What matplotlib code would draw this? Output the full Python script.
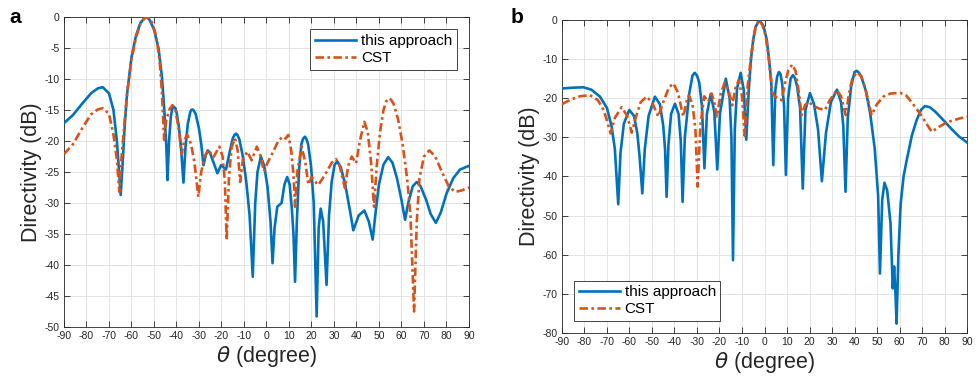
import matplotlib
matplotlib.use("Agg")
import matplotlib.pyplot as plt

# ---------------- Panel a data ----------------
theta_a_this = [-90, -86, -82, -78, -75, -72.8, -70, -68, -66.5, -65.5, -64.8, -64, -63, -62, -60, -58, -56, -54,
                -53.3, -52, -50, -48, -46.5, -45.5, -44.5, -44.0, -43.3, -42.5, -41.8, -41.1, -40.5, -40, -39, -38,
                -36.9, -36, -35, -34, -33.5, -32.9, -32.3, -31.5, -30, -29, -28.0, -27, -26.1, -25, -23.5, -21.8,
                -20.2, -18.0, -16.5, -15, -14.2, -13.5, -12.8, -12, -10.5, -9, -7.5, -6.1, -5, -4, -2.5, -1, 0.5,
                1.8, 2.7, 3.6, 4.8, 6.7, 8, 9.2, 10.3, 11.3, 12.0, 12.7, 13.5, 14.5, 15.5, 16.3, 17.1, 17.8, 18.5,
                19.8, 21.0, 22.3, 23.2, 24.1, 25.2, 26.7, 27.8, 29, 30.3, 31.5, 33, 35, 37, 38.6, 41, 43.5, 45.5,
                47.2, 48.5, 50, 52, 54.1, 56, 58, 60, 61.6, 63, 65, 66.8, 68.5, 71, 73, 75.3, 77.5, 80, 83, 86, 90]
dir_a_this = [-17.1, -15.8, -14.0, -12.3, -11.5, -11.3, -12.3, -15.0, -20.0, -25.0, -28.7, -24.0, -17.5, -12.5, -6.5,
              -3.0, -0.9, -0.1, 0.0, -0.4, -2.0, -5.0, -9.5, -14.5, -21.0, -26.3, -20.0, -16.0, -14.7, -14.5, -14.7,
              -15.3, -17.5, -21.0, -26.7, -21.0, -17.3, -15.5, -15.0, -14.9, -15.1, -15.6, -18.0, -20.5, -23.9,
              -22.3, -21.5, -22.0, -23.5, -25.2, -23.9, -24.6, -22.0, -19.6, -19.0, -18.8, -19.1, -19.8, -22.5,
              -26.5, -32.0, -41.9, -30.0, -25.0, -22.5, -24.0, -27.5, -33.0, -39.7, -34.0, -30.6, -30.0, -27.0,
              -25.8, -27.0, -31.0, -35.0, -42.7, -33.0, -24.5, -20.5, -19.6, -19.3, -19.7, -20.5, -24.0, -30.0,
              -48.3, -34.0, -30.9, -33.0, -43.2, -32.0, -26.5, -23.8, -23.3, -24.2, -27.0, -31.0, -34.4, -32.0,
              -31.2, -33.0, -35.9, -31.5, -27.0, -23.8, -22.6, -23.5, -26.0, -29.5, -32.7, -30.0, -27.3, -26.6,
              -27.3, -29.5, -31.8, -33.2, -31.5, -28.5, -26.0, -24.6, -24.0]

theta_a_cst = [-90, -86, -82, -78, -75, -72.8, -70, -68, -66.5, -65.4, -64.5, -63, -62, -60, -58, -56, -54, -52.5,
               -51, -49, -47.5, -46.5, -45.5, -44.5, -43, -41.8, -40.5, -39, -37.7, -36.5, -35.2, -33.5, -32,
               -30.3, -29, -27.5, -25.8, -23.6, -20.9, -19.5, -18.5, -17.7, -16.7, -15.5, -14.0, -12.8, -11.7,
               -10.5, -8.5, -6.6, -4.3, -2.5, -1.2, 0.5, 3, 5.5, 7.5, 8.5, 9.7, 11, 12.0, 12.7, 13.7, 15.6, 17.3,
               18.6, 20.1, 21.5, 23.0, 25, 26.7, 29, 30.9, 32.5, 34.9, 36.3, 37.9, 39.8, 41.5, 43.5, 45, 46.5,
               47.8, 49, 50.5, 52, 53.2, 54.2, 55.3, 56.5, 58.5, 60.5, 62.5, 64.0, 65.6, 66.8, 68, 70, 72.4, 75,
               78, 81, 83.8, 86.5, 90]
dir_a_cst = [-22.1, -20.5, -18.0, -15.7, -14.9, -14.7, -15.6, -19.0, -23.0, -28.2, -23.0, -16.5, -12.5, -6.8, -3.3,
             -1.0, -0.1, 0.0, -0.8, -3.0, -7.0, -12.0, -19.8, -16.5, -14.8, -14.2, -15.0, -18.0, -22.1, -19.8,
             -19.0, -20.5, -23.5, -29.0, -25.0, -22.5, -21.4, -22.6, -20.9, -22.5, -26.5, -36.0, -26.0, -21.0,
             -19.6, -21.5, -26.6, -23.0, -21.7, -23.1, -20.9, -22.5, -24.9, -23.5, -21.7, -19.8, -19.3, -19.6,
             -19.0, -21.5, -25.5, -30.6, -25.0, -20.9, -23.5, -27.0, -25.8, -26.5, -27.1, -26.0, -25.0, -23.5,
             -22.9, -24.0, -27.6, -24.0, -22.5, -23.6, -20.0, -16.9, -18.5, -23.5, -30.6, -24.0, -18.5, -15.0,
             -13.6, -13.1, -13.3, -14.0, -16.5, -20.5, -26.0, -32.0, -47.5, -33.0, -26.0, -22.5, -21.5, -22.5,
             -25.0, -27.3, -28.2, -28.0, -27.5]

# ---------------- Panel b data ----------------
theta_b_this = [-90, -85, -80.5, -77, -73.1, -70, -67.9, -66.5, -65.0, -64, -62.5, -60.1, -58, -56.5, -55.5, -54.3,
                -53.2, -51.5, -48.7, -46.5, -45, -44.2, -43.5, -42.7, -41.5, -39.8, -38.2, -37.2, -36.4, -35.4,
                -33.5, -32.0, -31.0, -30.0, -29, -27.8, -26.7, -25.6, -23.9, -22.3, -21.0, -19.8, -17.2, -15.5,
                -14.7, -14.0, -13.2, -12.2, -10.6, -9.2, -8.1, -7.0, -6, -5, -4, -2.3, -0.5, 1, 2, 3, 3.9, 4.8,
                5.6, 6.4, 7.1, 7.8, 8.7, 9.5, 10.5, 11.6, 12.6, 13.5, 14.5, 15.8, 17.0, 18.2, 20.2, 22, 23.8, 25.5,
                27.3, 29.5, 32.2, 34, 35.0, 36.0, 37.0, 38.5, 40.0, 41.0, 42.0, 43, 45, 47, 49, 50.5, 51.3, 52.3,
                53.3, 54.5, 56, 57.0, 57.6, 58.2, 58.7, 59.5, 60.5, 61.8, 63.2, 65.5, 67.6, 69.5, 71.3, 73.5, 76,
                79.5, 83, 86.5, 90]
dir_b_this = [-17.5, -17.3, -17.2, -17.8, -19.6, -22.5, -27.3, -33.0, -47.1, -34.0, -26.5, -23.0, -24.5, -29.0,
              -35.0, -44.3, -33.0, -24.5, -19.6, -21.5, -27.0, -33.0, -45.2, -32.0, -24.0, -21.4, -24.0, -31.0,
              -46.5, -30.0, -19.0, -14.2, -13.5, -14.2, -16.0, -22.0, -37.9, -24.0, -18.9, -23.5, -38.2, -24.0,
              -15.0, -20.0, -30.0, -61.4, -28.0, -17.5, -13.5, -18.0, -30.6, -18.0, -10.0, -5.0, -1.8, 0.0, -1.5,
              -5.0, -10.0, -16.0, -37.1, -18.0, -14.5, -13.3, -13.8, -16.0, -22.0, -39.6, -20.0, -15.0, -14.1,
              -14.8, -17.0, -22.5, -43.1, -23.0, -18.7, -21.5, -28.0, -41.2, -29.0, -21.0, -17.8, -21.0, -27.0,
              -43.9, -25.0, -17.0, -13.3, -13.0, -13.5, -14.5, -18.0, -24.0, -33.0, -45.0, -64.8, -46.0, -41.6,
              -43.5, -52.0, -68.6, -63.0, -70.0, -77.6, -60.0, -47.0, -40.0, -35.8, -29.5, -25.6, -23.0, -22.0,
              -22.3, -23.5, -25.6, -27.8, -29.8, -31.3]

theta_b_cst = [-90, -86, -82, -77.6, -74, -71.5, -70.1, -68.4, -66.5, -63.5, -61, -59.0, -57, -55, -52.4, -50,
               -48.5, -47.2, -45, -42.5, -40.5, -38.5, -36.1, -34.5, -33.6, -32, -30.7, -29.7, -28.5, -26.8, -25.0,
               -23.5, -22.3, -21.2, -19.5, -17.7, -16, -14.3, -13, -11.4, -10, -8.8, -7.5, -6, -5, -4, -2.5, -1,
               0.5, 1.5, 2.5, 3.5, 4.5, 6, 7.5, 9, 10.5, 12.3, 13.8, 15, 16.5, 18, 19.5, 21.5, 24, 26.9, 29, 32.1,
               34, 36.1, 37.5, 39, 41, 43, 45, 47.6, 50, 52.8, 56, 60.2, 63, 66, 69.1, 72, 74.3, 77, 80, 83, 86.5,
               90]
dir_b_cst = [-21.5, -20.3, -19.5, -19.2, -20.5, -23.0, -25.5, -29.0, -25.0, -22.3, -24.5, -28.8, -24.5, -21.0,
             -19.6, -21.0, -23.0, -24.7, -21.0, -17.3, -16.2, -18.5, -24.7, -20.5, -19.3, -21.5, -28.0, -42.6,
             -27.0, -19.5, -20.9, -18.8, -21.0, -24.7, -19.0, -16.0, -18.0, -21.8, -17.5, -15.3, -19.5, -29.6,
             -17.0, -9.5, -5.0, -2.0, 0.0, -1.2, -4.0, -8.0, -13.0, -18.5, -19.5, -20.0, -20.5, -16.5, -13.0,
             -11.4, -13.0, -17.5, -24.3, -21.8, -20.9, -21.8, -22.6, -23.0, -20.5, -17.9, -19.5, -24.3, -19.0,
             -15.0, -13.4, -14.3, -18.0, -24.3, -21.5, -19.6, -18.8, -18.6, -19.3, -21.5, -23.9, -26.5, -28.6,
             -27.5, -26.5, -25.8, -25.2, -24.7]

x_ticks = list(range(-90, 91, 10))
y_ticks_a = list(range(-50, 1, 5))
y_ticks_b = list(range(-80, 1, 10))
series_labels = ["this approach", "CST"]

BLUE = "#0072BD"
ORANGE = "#D95319"
DASHDOT = (0, (3.2, 1.3, 1.0, 1.3))

plt.rcParams['font.family'] = ['Liberation Sans', 'DejaVu Sans']
plt.rcParams['mathtext.fontset'] = 'dejavusans'
plt.rcParams['axes.unicode_minus'] = False

fig = plt.figure(figsize=(9.77, 3.80), dpi=100)
ax_a = fig.add_axes([0.0655, 0.1395, 0.4145, 0.8155])
ax_b = fig.add_axes([0.5752, 0.1237, 0.4146, 0.8237])


def style(ax, yticks, ylim):
    ax.set_xlim(-90, 90)
    ax.set_ylim(*ylim)
    ax.set_xticks(x_ticks)
    ax.set_yticks(yticks)
    ax.tick_params(direction='in', length=4, width=0.6, labelsize=7.5, top=True, right=True,
                   colors='#262626', pad=3)
    ax.grid(True, color='#e3e3e3', linewidth=0.7)
    ax.set_axisbelow(True)
    for s in ax.spines.values():
        s.set_color('#262626')
        s.set_linewidth(0.6)
    ax.set_ylabel('Directivity (dB)', fontsize=15.5, color='#262626', labelpad=2)
    ax.set_xlabel(r'$\theta$ (degree)', fontsize=15.5, color='#262626', labelpad=2)


ax_a.plot(theta_a_this, dir_a_this, color=BLUE, lw=1.9, label=series_labels[0], zorder=3)
ax_a.plot(theta_a_cst, dir_a_cst, color=ORANGE, lw=1.9, ls=DASHDOT, label=series_labels[1], zorder=4)
style(ax_a, y_ticks_a, (-50, 0))
ax_a.legend(loc='upper right', fontsize=11, frameon=True, fancybox=False, edgecolor='#262626',
            framealpha=1, handlelength=2.7, borderpad=0.3, labelspacing=0.2, handletextpad=0.3,
            borderaxespad=0.8).get_frame().set_linewidth(0.6)

ax_b.plot(theta_b_this, dir_b_this, color=BLUE, lw=1.9, label=series_labels[0], zorder=3)
ax_b.plot(theta_b_cst, dir_b_cst, color=ORANGE, lw=1.9, ls=DASHDOT, label=series_labels[1], zorder=4)
style(ax_b, y_ticks_b, (-80, 0))
ax_b.legend(loc='lower left', fontsize=11, frameon=True, fancybox=False, edgecolor='#262626',
            framealpha=1, handlelength=2.7, borderpad=0.3, labelspacing=0.2, handletextpad=0.3,
            borderaxespad=0.8).get_frame().set_linewidth(0.6)

fig.text(0.010, 0.955, 'a', fontsize=15, fontweight='bold', va='center', ha='left')
fig.text(0.523, 0.955, 'b', fontsize=15, fontweight='bold', va='center', ha='left')

fig.savefig('out.png', dpi=100, facecolor='white')
